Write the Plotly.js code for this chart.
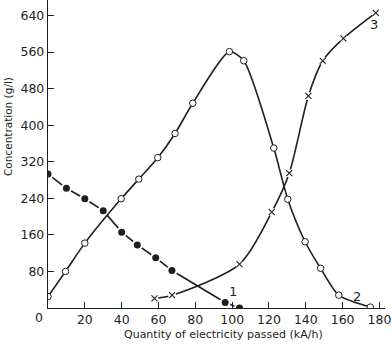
<!DOCTYPE html>
<html>
<head>
<meta charset="utf-8">
<script src="https://cdn.plot.ly/plotly-3.0.1.min.js"></script>
<style>html,body{margin:0;padding:0;background:#fff;}#chart{width:391px;height:346px;}</style>
</head>
<body>
<div id="chart"></div>
<script>
// Curve 1 (filled circles)
const x1 = [0, 10, 20, 30, 40, 48.5, 58.5, 67.3, 96.2, 104];
const y1 = [293, 262, 239, 213, 166, 138, 110, 82, 12, 0];
// Curve 2 (open circles)
const x2 = [0, 9.5, 20, 39.7, 49.3, 59.6, 69, 78.6, 98.5, 106.3, 122.6, 130.2, 139.6, 148, 157.9, 175];
const y2 = [25, 80, 142, 239, 282, 329, 382, 448, 561, 541, 350, 238, 145, 87, 28, 2];
// Curve 3 (crosses)
const x3 = [57.8, 67.4, 104, 121.5, 131, 141.4, 149.2, 160.4, 178];
const y3 = [21, 28, 96, 210, 295, 464, 541, 590, 646];
// Curve labels
const curveLabels = ['1', '2', '3'];
const labelX = [100.5, 168, 177];
const labelY = [36, 26, 620];
// Tick values
const xTicks = [20, 40, 60, 80, 100, 120, 140, 160, 180];
const yTicks = [80, 160, 240, 320, 400, 480, 560, 640];

const ink = '#1e1e1e';
const font = 'DejaVu Sans, sans-serif';

const W = 391, H = 346, ml = 48, mr = 6, mt = 0, mb = 38;
function px(xp) { return (xp - ml) / (W - ml - mr); }
function py(yp) { return (H - mb - yp) / (H - mt - mb); }

const traces = [
  {x: x1, y: y1, mode: 'lines+markers', type: 'scatter',
   line: {color: ink, width: 1.6},
   marker: {symbol: 'circle', size: 9, color: ink, line: {color: '#fff', width: 2}}},
  {x: x2, y: y2, mode: 'lines+markers', type: 'scatter',
   line: {color: ink, width: 1.6, shape: 'spline', smoothing: 0.7},
   marker: {symbol: 'circle', size: 6.5, color: '#fff', line: {color: ink, width: 1}}},
  {x: x3, y: y3, mode: 'lines', type: 'scatter',
   line: {color: ink, width: 1.6, shape: 'spline', smoothing: 0.8}},
  {x: x3, y: y3, mode: 'markers', type: 'scatter',
   marker: {symbol: 'circle', size: 8, color: '#fff', line: {width: 0}}},
  {x: x3, y: y3, mode: 'markers', type: 'scatter',
   marker: {symbol: 'x-thin', size: 6, color: ink, line: {color: ink, width: 1.1}}}
];

const annotations = curveLabels.map((t, i) => ({
  x: labelX[i], y: labelY[i], xref: 'x', yref: 'y', text: t, showarrow: false,
  font: {family: font, size: 13, color: ink}
}));
annotations.push({xref: 'paper', yref: 'paper', x: px(39), y: py(317), xanchor: 'center', yanchor: 'middle',
  text: '0', showarrow: false, font: {family: font, size: 12.5, color: ink}});
annotations.push({xref: 'paper', yref: 'paper', x: px(223), y: py(334), xanchor: 'center', yanchor: 'middle',
  text: 'Quantity of electricity passed (kA/h)', showarrow: false, font: {family: font, size: 11, color: ink}});
annotations.push({xref: 'paper', yref: 'paper', x: px(8), y: py(127), xanchor: 'center', yanchor: 'middle',
  text: 'Concentration (g/l)', textangle: -90, showarrow: false, font: {family: font, size: 10.5, color: ink}});

const axisCommon = {
  ticks: 'inside', ticklen: 6, tickcolor: ink, tickwidth: 1,
  showgrid: false, zeroline: false, showline: true, linecolor: ink, linewidth: 1.2,
  tickfont: {family: font, size: 12.5, color: ink}, fixedrange: true, ticklabeloverflow: 'allow'
};

const layout = {
  width: W, height: H,
  margin: {l: ml, r: mr, t: mt, b: mb, pad: 0},
  paper_bgcolor: '#fff', plot_bgcolor: '#fff',
  showlegend: false,
  xaxis: Object.assign({range: [0, 183], tickvals: xTicks}, axisCommon),
  yaxis: Object.assign({range: [0, 674], tickvals: yTicks}, axisCommon),
  annotations: annotations
};

Plotly.newPlot('chart', traces, layout, {displayModeBar: false, staticPlot: true});
</script>
</body>
</html>
